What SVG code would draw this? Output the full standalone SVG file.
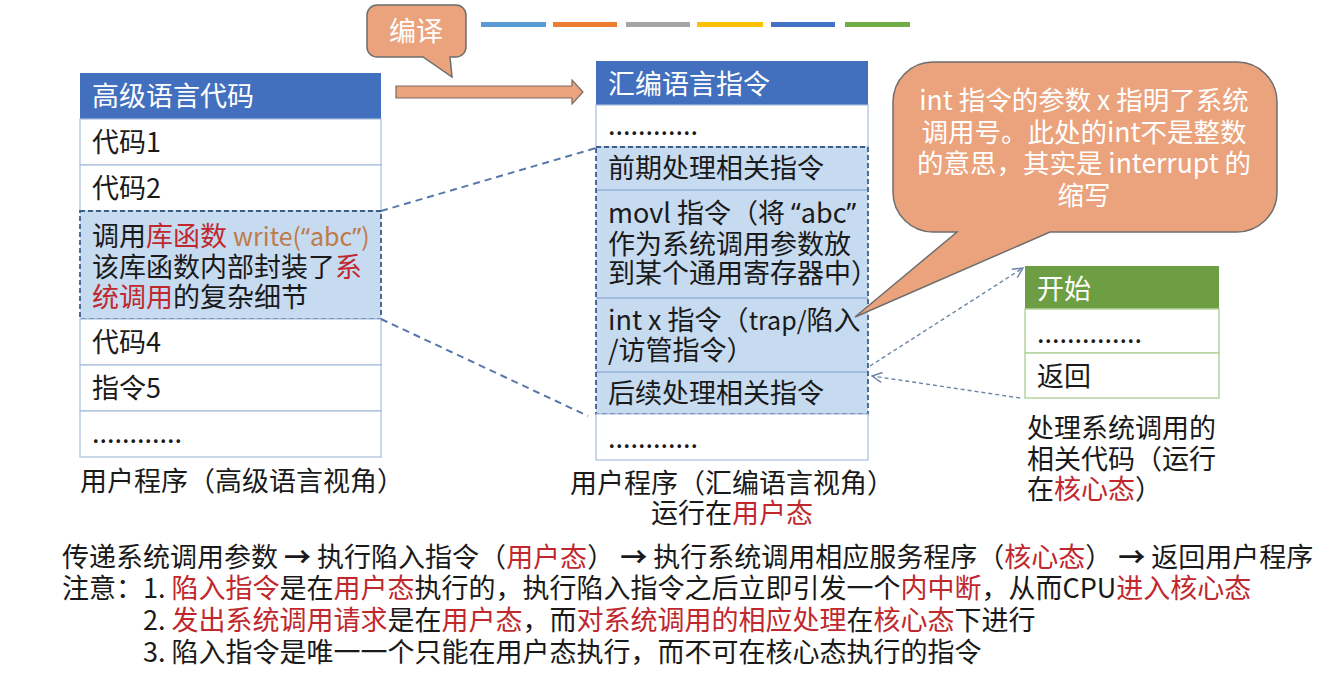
<svg xmlns="http://www.w3.org/2000/svg" width="1328" height="681" viewBox="0 0 1328 681">
<defs>
<style>
text{font-family:"Noto Sans CJK SC","Liberation Sans",sans-serif;fill:#1a1a1a;}
.t{font-size:27px;}
.hd{font-size:27px;fill:#fff;}
.ct{font-size:26.5px;fill:#fff;}
.w{fill:#fff;}
.r{fill:#C0282D;}
.b{fill:#C07A48;}
.lat{font-size:25px;}
.q{font-family:"Noto Sans","Liberation Sans",sans-serif;}
.cell{fill:#fff;stroke:#A9BCDD;stroke-width:1.2;}
.hl{fill:#C6DAF0;}
.hlb{fill:none;stroke:#3E5F8A;stroke-width:1.8;stroke-dasharray:5 3;}
.sep{stroke:#7C9CCB;stroke-width:1.2;}
.gcell{fill:#fff;stroke:#B5D3A0;stroke-width:1.5;}
.link{fill:none;stroke:#5578A8;stroke-width:2;stroke-dasharray:7 5;}
.arr{fill:none;stroke:#6C84A8;stroke-width:1.4;stroke-dasharray:4 3;}
.bt{font-size:27px;}
</style>
<marker id="oa" viewBox="0 0 12 12" refX="11" refY="6" markerWidth="12" markerHeight="12" markerUnits="userSpaceOnUse" orient="auto">
<path d="M1,1 L11,6 L1,11" fill="none" stroke="#6C84A8" stroke-width="1.4"/>
</marker>
</defs>
<rect width="1328" height="681" fill="#fff"/>

<g id="colorbars">
<rect x="481" y="22" width="65" height="5" fill="#5B9BD5"/>
<rect x="553" y="22" width="64" height="5" fill="#ED7D31"/>
<rect x="626" y="22" width="64" height="5" fill="#A5A5A5"/>
<rect x="697" y="22" width="66" height="5" fill="#FFC000"/>
<rect x="771" y="22" width="64" height="5" fill="#4472C4"/>
<rect x="845" y="22" width="65" height="5" fill="#70AD47"/>
</g>

<g id="compile-callout">
<path d="M377,5 H456 A10 10 0 0 1 466,15 V47 A10 10 0 0 1 456,57 H450 L452,77 L423,57 H377 A10 10 0 0 1 367,47 V15 A10 10 0 0 1 377,5 Z" fill="#EBA37D" stroke="#6E6E6E" stroke-width="1.5"/>
<text x="416" y="41" class="w" font-size="27" text-anchor="middle">编译</text>
</g>

<g id="high-level">
<rect x="80" y="73" width="301" height="46" fill="#4270BE"/>
<text x="92" y="106" class="hd">高级语言代码</text>
<rect x="80" y="119" width="301" height="46" class="cell"/>
<text x="92" y="152" class="t">代码1</text>
<rect x="80" y="165" width="301" height="46" class="cell"/>
<text x="92" y="198" class="t">代码2</text>
<rect x="80" y="211" width="301" height="108" class="hl"/>
<text x="92" y="246" class="t">调用<tspan class="r">库函数</tspan> <tspan class="b lat">write(<tspan class="q">“</tspan>abc<tspan class="q">”</tspan>)</tspan></text>
<text x="92" y="277" class="t">该库函数内部封装了<tspan class="r">系</tspan></text>
<text x="92" y="307" class="t"><tspan class="r">统调用</tspan>的复杂细节</text>
<rect x="80" y="211" width="301" height="108" class="hlb"/>
<rect x="80" y="319" width="301" height="46" class="cell"/>
<text x="92" y="352" class="t">代码4</text>
<rect x="80" y="365" width="301" height="46" class="cell"/>
<text x="92" y="398" class="t">指令5</text>
<rect x="80" y="411" width="301" height="46" class="cell"/>
<text x="92" y="443" class="t">............</text>
<text x="80" y="491" class="t">用户程序（高级语言视角）</text>
</g>

<g id="compile-arrow">
<path d="M396,86 H572 V80 L583,92 L572,104 V98 H396 Z" fill="#EBA37D" stroke="#7A6A60" stroke-width="1.2"/>
</g>

<g id="assembly">
<rect x="596" y="61" width="272" height="44" fill="#4270BE"/>
<text x="608" y="94" class="hd">汇编语言指令</text>
<rect x="596" y="105" width="272" height="42" class="cell"/>
<text x="608" y="135" class="t">............</text>
<rect x="596" y="147" width="272" height="267" class="hl"/>
<line x1="596" y1="190" x2="868" y2="190" class="sep"/>
<line x1="596" y1="298" x2="868" y2="298" class="sep"/>
<line x1="596" y1="372" x2="868" y2="372" class="sep"/>
<text x="608" y="178" class="t">前期处理相关指令</text>
<text x="608" y="223" class="t">movl 指令（将 <tspan class="q">“</tspan>abc<tspan class="q">”</tspan></text>
<text x="608" y="254" class="t">作为系统调用参数放</text>
<text x="608" y="283" class="t">到某个通用寄存器中）</text>
<text x="608" y="330" class="t">int x 指令（<tspan class="lat">trap/</tspan>陷入</text>
<text x="608" y="360" class="t">/访管指令）</text>
<text x="608" y="403" class="t">后续处理相关指令</text>
<rect x="596" y="147" width="272" height="267" class="hlb"/>
<rect x="596" y="414" width="272" height="46" class="cell"/>
<text x="608" y="448" class="t">............</text>
<text x="732" y="493" class="t" text-anchor="middle">用户程序（汇编语言视角）</text>
<text x="732" y="523" class="t" text-anchor="middle">运行在<tspan class="r">用户态</tspan></text>
</g>

<g id="int-callout">
<path d="M933,62 H1237 A40 40 0 0 1 1277,102 V192 A40 40 0 0 1 1237,232 H1050 L855,317 L957,232 H933 A40 40 0 0 1 893,192 V102 A40 40 0 0 1 933,62 Z" fill="#EBA37D" stroke="#6E6E6E" stroke-width="1.5"/>
<text x="1084" y="110" class="ct" text-anchor="middle">int 指令的参数 x 指明了系统</text>
<text x="1084" y="142" class="ct" text-anchor="middle">调用号。此处的int不是整数</text>
<text x="1084" y="173" class="ct" text-anchor="middle">的意思，其实是 interrupt 的</text>
<text x="1084" y="205" class="ct" text-anchor="middle">缩写</text>
</g>

<g id="kernel-handler">
<rect x="1025" y="266" width="194" height="43" fill="#6E9E43"/>
<text x="1037" y="299" class="hd">开始</text>
<rect x="1025" y="309" width="194" height="44" class="gcell"/>
<text x="1037" y="343" class="t">..............</text>
<rect x="1025" y="353" width="194" height="45" class="gcell"/>
<text x="1037" y="386" class="t">返回</text>
<text x="1027" y="438" class="t">处理系统调用的</text>
<text x="1027" y="469" class="t">相关代码（运行</text>
<text x="1027" y="499" class="t">在<tspan class="r">核心态</tspan>）</text>
</g>

<g id="connectors">
<line x1="381" y1="211" x2="596" y2="148" class="link"/>
<line x1="381" y1="319" x2="588" y2="416" class="link"/>
<line x1="870" y1="366" x2="1023" y2="268" class="arr" marker-end="url(#oa)"/>
<line x1="1020" y1="398" x2="872" y2="376" class="arr" marker-end="url(#oa)"/>
</g>

<g id="notes">
<text x="62" y="567" class="bt">传递系统调用参数 <tspan font-weight="bold">→</tspan> 执行陷入指令（<tspan class="r">用户态</tspan>） <tspan font-weight="bold">→</tspan> 执行系统调用相应服务程序（<tspan class="r">核心态</tspan>） <tspan font-weight="bold">→</tspan> 返回用户程序</text>
<text x="62" y="598" class="bt">注意：1. <tspan class="r">陷入指令</tspan>是在<tspan class="r">用户态</tspan>执行的，执行陷入指令之后立即引发一个<tspan class="r">内中断</tspan>，从而CPU<tspan class="r">进入核心态</tspan></text>
<text x="143" y="630" class="bt">2. <tspan class="r">发出系统调用请求</tspan>是在<tspan class="r">用户态</tspan>，而<tspan class="r">对系统调用的相应处理</tspan>在<tspan class="r">核心态</tspan>下进行</text>
<text x="143" y="662" class="bt">3. 陷入指令是唯一一个只能在用户态执行，而不可在核心态执行的指令</text>
</g>
</svg>
